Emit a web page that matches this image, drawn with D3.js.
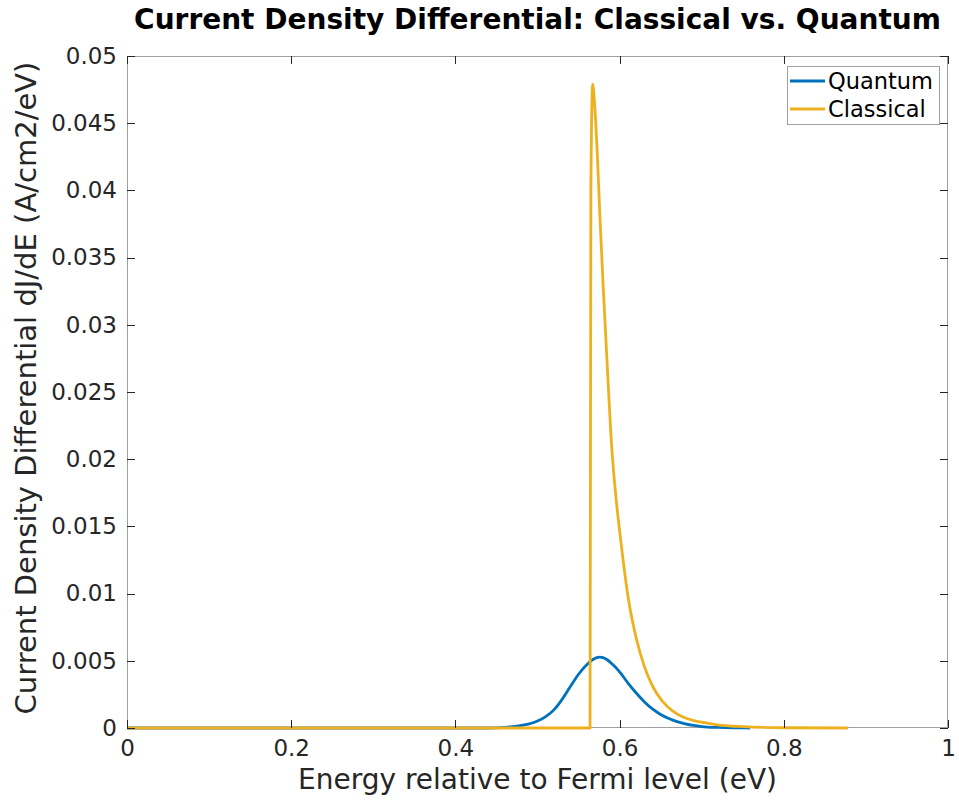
<!DOCTYPE html>
<html><head><meta charset="utf-8">
<script src="https://cdn.jsdelivr.net/npm/d3@7"></script>
<style>body{margin:0;background:#fff;} svg{display:block;}</style>
</head><body>
<script>
// ---- data ----
const quantumE = [0, 0.44, 0.46, 0.475, 0.49, 0.50, 0.51, 0.52, 0.53, 0.54, 0.55, 0.56, 0.568, 0.576, 0.584, 0.592, 0.600, 0.61, 0.62, 0.63, 0.64, 0.65, 0.66, 0.67, 0.68, 0.69, 0.70, 0.72, 0.74, 0.759];
const quantumJ = [0, 0, 0.00005, 0.00014, 0.00031, 0.00052, 0.00085, 0.00135, 0.00213, 0.00308, 0.00400, 0.00470, 0.00512, 0.00527, 0.00512, 0.00470, 0.00418, 0.00336, 0.00262, 0.00196, 0.00142, 0.00101, 0.00070, 0.00047, 0.00031, 0.00019, 0.00011, 0.00004, 0.00001, 0];
const classicalE = [0, 0.564, 0.5650, 0.5672, 0.5700, 0.5730, 0.5760, 0.5798, 0.585, 0.5904, 0.5955, 0.6013, 0.6110, 0.6208, 0.6300, 0.6407, 0.652, 0.664, 0.6772, 0.6905, 0.7065, 0.725, 0.75, 0.80, 0.878];
const classicalJ = [0, 0, 0.040, 0.0479, 0.0460, 0.0425, 0.0381, 0.0331, 0.0269, 0.0209, 0.0172, 0.0140, 0.0095, 0.00655, 0.0046, 0.00305, 0.0020, 0.0013, 0.00082, 0.00055, 0.00037, 0.0002, 0.0001, 0.00002, 0];
const xTicks = [0, 0.2, 0.4, 0.6, 0.8, 1];
const xTickLabels = ["0", "0.2", "0.4", "0.6", "0.8", "1"];
const yTicks = [0, 0.005, 0.01, 0.015, 0.02, 0.025, 0.03, 0.035, 0.04, 0.045, 0.05];
const yTickLabels = ["0", "0.005", "0.01", "0.015", "0.02", "0.025", "0.03", "0.035", "0.04", "0.045", "0.05"];
const seriesNames = ["Quantum", "Classical"];
const seriesColors = ["#0072BD", "#EDB120"];
const titleText = "Current Density Differential: Classical vs. Quantum";
const xLabelText = "Energy relative to Fermi level (eV)";
const yLabelText = "Current Density Differential dJ/dE (A/cm2/eV)";

// ---- layout ----
const W = 959, H = 806;
const L = 127, R = 948, T = 56, B = 728;
const font = "'DejaVu Sans', sans-serif";
const textCol = "#262626";

const svg = d3.select("body").append("svg").attr("width", W).attr("height", H)
  .style("font-family", font);

const x = d3.scaleLinear().domain([0, 1]).range([L, R]);
const y = d3.scaleLinear().domain([0, 0.05]).range([B, T]);

svg.append("rect").attr("x", L).attr("y", T).attr("width", R - L).attr("height", B - T)
  .attr("fill", "#fff");

// box
svg.append("rect").attr("x", L + 0.5).attr("y", T + 0.5).attr("width", R - L - 1).attr("height", B - T - 1)
  .attr("fill", "none").attr("stroke", "#a0a0a0").attr("stroke-width", 1);

// series
const series = [
  {E: quantumE, J: quantumJ},
  {E: classicalE, J: classicalJ}
];
const line = d3.line().x(d => x(d[0])).y(d => y(d[1])).curve(d3.curveMonotoneX);
series.forEach((s, i) => {
  const pts = s.E.map((e, k) => [e, s.J[k]]);
  svg.append("path").datum(pts).attr("d", line)
    .attr("fill", "none").attr("stroke", seriesColors[i])
    .attr("stroke-width", 2.8).attr("stroke-linejoin", "round");
});

// axes
const tickLen = 8;
const xAxis = d3.axisBottom(x).tickValues(xTicks).tickFormat((d, i) => xTickLabels[i]).tickSize(0).tickPadding(12);
const gx = svg.append("g").attr("transform", `translate(0,${B})`).call(xAxis);
gx.select(".domain").remove();
gx.selectAll("text").attr("font-size", 23).attr("fill", textCol).attr("font-family", font);

const yAxis = d3.axisLeft(y).tickValues(yTicks).tickFormat((d, i) => yTickLabels[i]).tickSize(0).tickPadding(10);
const gy = svg.append("g").attr("transform", `translate(${L},0)`).call(yAxis);
gy.select(".domain").remove();
gy.selectAll("text").attr("font-size", 23).attr("fill", textCol).attr("font-family", font);

// tick marks (inward, mirrored)
const tk = svg.append("g").attr("stroke", textCol).attr("stroke-width", 1);
xTicks.forEach(v => {
  const px = Math.round(x(v)) + 0.5;
  tk.append("line").attr("x1", px).attr("x2", px).attr("y1", B).attr("y2", B - tickLen);
  tk.append("line").attr("x1", px).attr("x2", px).attr("y1", T).attr("y2", T + tickLen);
});
yTicks.forEach(v => {
  const py = Math.round(y(v)) + 0.5;
  tk.append("line").attr("x1", L).attr("x2", L + tickLen).attr("y1", py).attr("y2", py);
  tk.append("line").attr("x1", R).attr("x2", R - tickLen).attr("y1", py).attr("y2", py);
});

// title & labels
svg.append("text").attr("x", (L + R) / 2).attr("y", 29).attr("text-anchor", "middle")
  .attr("font-size", 28).attr("font-weight", "bold").attr("fill", "#000").text(titleText);
svg.append("text").attr("x", (L + R) / 2).attr("y", 789).attr("text-anchor", "middle")
  .attr("font-size", 28).attr("fill", textCol).text(xLabelText);
svg.append("text").attr("transform", `translate(36,388) rotate(-90)`).attr("text-anchor", "middle")
  .attr("font-size", 29).attr("fill", textCol).text(yLabelText);

// legend
const lg = svg.append("g");
lg.append("rect").attr("x", 787.5).attr("y", 66.5).attr("width", 152).attr("height", 58)
  .attr("fill", "#fff").attr("stroke", "#a0a0a0").attr("stroke-width", 1);
seriesNames.forEach((n, i) => {
  const ly = 81 + i * 28;
  lg.append("line").attr("x1", 790).attr("x2", 825).attr("y1", ly).attr("y2", ly)
    .attr("stroke", seriesColors[i]).attr("stroke-width", 2.8);
  lg.append("text").attr("x", 828).attr("y", ly + 8).attr("font-size", 22.5).attr("fill", "#000").text(n);
});
</script>
</body></html>
